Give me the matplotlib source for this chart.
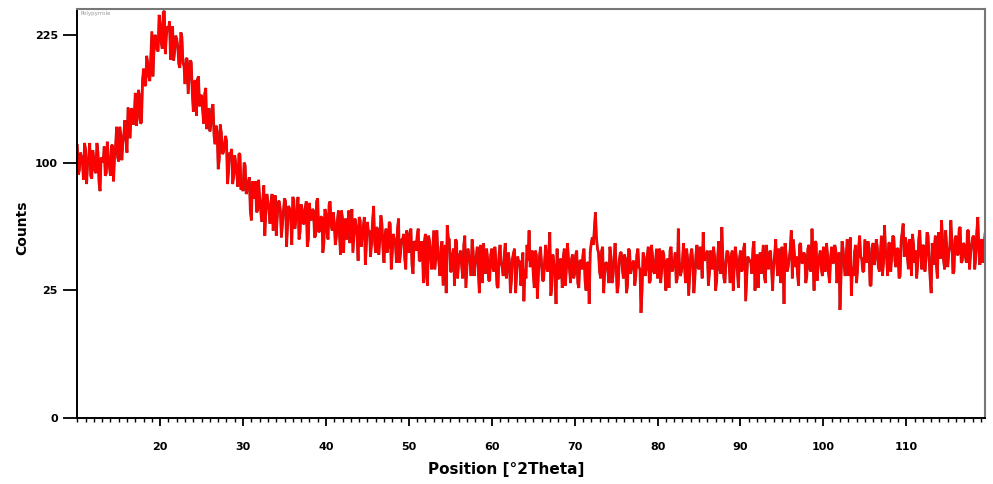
import numpy as np
import matplotlib
matplotlib.use("Agg")
import matplotlib.pyplot as plt
from matplotlib.ticker import FixedLocator, MultipleLocator

# Scan read on a 0.125 deg grid: "a" points at 10.00, 10.25, ... ; "b" points at 10.125, 10.375, ...
two_theta_start = 10.0
two_theta_step = 0.125

counts_a_10_20 = [114, 94, 105, 87, 111, 99, 116, 88, 103, 92, 108, 79, 103, 113, 92, 103,
                  90, 114, 105, 130, 101, 123, 116, 136, 108, 133, 147, 132, 162, 138, 160, 134,
                  187, 169, 193, 174, 229, 206, 221, 206]
counts_a_20_30 = [238, 209, 254, 224, 231, 197, 235, 206, 220, 192, 228, 193, 171, 198, 179, 194,
                  144, 174, 176, 149, 160, 133, 167, 140, 126, 147, 122, 131, 95, 132, 107, 114,
                  118, 93, 107, 84, 106, 91, 107, 80]
counts_a_30_40 = [79, 98, 80, 89, 60, 83, 86, 66, 74, 59, 83, 66, 71, 58, 77, 61,
                  51, 72, 66, 58, 74, 45, 69, 61, 75, 55, 66, 49, 70, 58, 68, 45,
                  71, 60, 66, 51, 74, 54, 62, 47]
counts_a_40_50 = [64, 49, 72, 54, 59, 50, 66, 41, 61, 57, 49, 66, 53, 42, 61, 51,
                  62, 45, 56, 36, 59, 54, 47, 69, 42, 54, 49, 58, 37, 55, 45, 58,
                  42, 49, 37, 61, 42, 49, 39, 54]
counts_a_50_60 = [42, 55, 32, 47, 51, 38, 48, 28, 52, 27, 48, 34, 54, 39, 42, 31,
                  48, 36, 24, 50, 33, 41, 27, 48, 37, 43, 30, 51, 34, 40, 31, 43,
                  37, 45, 24, 41, 47, 32, 39, 29]
counts_a_60_70 = [44, 33, 38, 26, 46, 35, 40, 30, 42, 24, 39, 44, 32, 37, 27, 42,
                  34, 46, 54, 38, 32, 43, 22, 40, 37, 29, 46, 33, 53, 27, 36, 20,
                  30, 39, 26, 44, 34, 39, 28, 41]
counts_a_70_80 = [32, 43, 26, 38, 41, 29, 37, 20, 47, 46, 65, 44, 33, 43, 24, 37,
                  33, 45, 28, 39, 36, 27, 42, 34, 41, 24, 44, 32, 37, 27, 41, 35,
                  17, 42, 31, 40, 28, 46, 33, 38]
counts_a_80_90 = [30, 44, 34, 41, 25, 39, 43, 33, 37, 28, 55, 31, 38, 35, 44, 23,
                  41, 37, 30, 46, 34, 42, 53, 39, 43, 32, 36, 45, 25, 40, 34, 56,
                  30, 38, 42, 28, 43, 35, 40, 26]
counts_a_90_100 = [43, 34, 47, 30, 39, 37, 44, 25, 41, 38, 32, 46, 28, 40, 42, 34,
                   36, 49, 31, 38, 45, 20, 41, 35, 44, 30, 42, 40, 27, 47, 37, 41,
                   31, 46, 33, 38, 48, 29, 40, 34]
counts_a_100_110 = [45, 33, 41, 28, 45, 37, 43, 32, 18, 48, 36, 40, 31, 50, 35, 42,
                    28, 45, 40, 33, 49, 37, 44, 27, 47, 39, 45, 33, 51, 37, 43, 31,
                    47, 41, 50, 35, 44, 31, 53, 40]
counts_a_110_120 = [47, 34, 44, 52, 37, 30, 49, 41, 46, 33, 53, 39, 24, 36, 51, 30,
                    49, 60, 38, 54, 35, 45, 48, 33, 51, 41, 56, 38, 46, 37, 54, 41,
                    50, 34, 53, 44, 48, 37, 52]

counts_b_10_20 = [91, 108, 100, 116, 84, 104, 90, 110, 94, 116, 85, 104, 100, 90, 117, 97,
                  114, 86, 114, 104, 130, 102, 124, 119, 148, 120, 145, 139, 131, 165, 133, 175,
                  171, 201, 179, 200, 179, 225, 208, 249]
counts_b_20_30 = [217, 252, 203, 235, 241, 214, 196, 224, 211, 188, 222, 190, 198, 161, 196, 162,
                  174, 140, 179, 158, 145, 161, 128, 147, 133, 151, 115, 126, 102, 125, 108, 122,
                  84, 108, 111, 90, 98, 82, 107, 84]
counts_b_30_40 = [100, 77, 85, 66, 86, 74, 65, 87, 66, 73, 51, 77, 66, 72, 54, 76,
                  62, 72, 50, 66, 72, 58, 67, 46, 73, 61, 75, 53, 67, 58, 72, 49,
                  62, 67, 50, 72, 53, 62, 42, 67]
counts_b_40_50 = [53, 70, 57, 65, 46, 60, 52, 66, 42, 61, 56, 47, 67, 51, 57, 38,
                  60, 51, 62, 46, 53, 40, 60, 47, 56, 41, 63, 44, 51, 42, 59, 34,
                  52, 47, 55, 37, 49, 52, 34, 49]
counts_b_50_60 = [52, 36, 48, 43, 55, 38, 45, 48, 31, 51, 40, 43, 34, 54, 37, 45,
                  27, 46, 57, 49, 33, 44, 49, 30, 41, 35, 46, 26, 44, 38, 49, 31,
                  40, 33, 46, 28, 39, 44, 29, 41]
counts_b_60_70 = [35, 45, 27, 41, 37, 31, 47, 34, 38, 29, 42, 24, 40, 38, 31, 21,
                  30, 38, 35, 43, 26, 41, 32, 45, 29, 38, 35, 42, 23, 41, 33, 44,
                  30, 37, 40, 27, 47, 34, 39, 30]
counts_b_70_80 = [41, 28, 38, 34, 44, 25, 37, 42, 50, 55, 50, 42, 30, 45, 33, 37,
                  28, 40, 31, 47, 24, 38, 42, 30, 39, 27, 43, 35, 38, 31, 44, 34,
                  25, 40, 34, 45, 29, 41, 32, 44]
counts_b_80_90 = [40, 28, 43, 33, 38, 26, 45, 35, 42, 30, 37, 33, 47, 28, 39, 31,
                  44, 24, 41, 35, 45, 30, 38, 41, 27, 43, 34, 40, 29, 48, 32, 39,
                  28, 43, 36, 40, 25, 45, 33, 39]
counts_b_90_100 = [33, 44, 21, 40, 38, 32, 48, 35, 26, 42, 39, 31, 46, 34, 43, 25,
                   41, 36, 44, 28, 40, 47, 33, 39, 54, 49, 35, 32, 46, 37, 42, 28,
                   44, 34, 55, 25, 47, 36, 43, 31]
counts_b_100_110 = [35, 47, 32, 40, 37, 46, 28, 42, 30, 44, 31, 49, 37, 23, 31, 46,
                    34, 51, 39, 33, 43, 48, 27, 45, 36, 49, 35, 42, 31, 57, 39, 47,
                    33, 51, 38, 44, 30, 48, 58, 50]
counts_b_110_120 = [40, 49, 31, 46, 43, 36, 54, 34, 45, 39, 51, 30, 47, 44, 36, 53,
                    39, 49, 34, 45, 42, 60, 32, 49, 41, 55, 37, 47, 40, 54, 34, 46,
                    51, 39, 62, 36, 49, 44]

counts_a = (counts_a_10_20 + counts_a_20_30 + counts_a_30_40 + counts_a_40_50 + counts_a_50_60
            + counts_a_60_70 + counts_a_70_80 + counts_a_80_90 + counts_a_90_100
            + counts_a_100_110 + counts_a_110_120)
counts_b = (counts_b_10_20 + counts_b_20_30 + counts_b_30_40 + counts_b_40_50 + counts_b_50_60
            + counts_b_60_70 + counts_b_70_80 + counts_b_80_90 + counts_b_90_100
            + counts_b_100_110 + counts_b_110_120)

counts = np.empty(len(counts_a) + len(counts_b))
counts[0::2] = counts_a
counts[1::2] = counts_b
two_theta = two_theta_start + two_theta_step * np.arange(len(counts))

x_major_ticks = [20, 30, 40, 50, 60, 70, 80, 90, 100, 110]
y_ticks = [0, 25, 100, 225]
y_tick_labels = ["0", "25", "100", "225"]
sample_name = "Polypyrrole"

fig = plt.figure(figsize=(9.93, 4.84), dpi=100)
ax = fig.add_axes([0.0778, 0.1357, 0.9142, 0.8451])

ax.plot(two_theta, counts, color="#a82828", linewidth=2.0, solid_joinstyle="bevel")
ax.plot(two_theta, counts, color="#ff0000", linewidth=1.5, solid_joinstyle="bevel")

def fwd(y):
    return np.sqrt(np.clip(y, 0, None))

def inv(y):
    return np.asarray(y) ** 2

ax.set_yscale("function", functions=(fwd, inv))
ax.set_ylim(0, 256)
ax.set_xlim(10, 119.5)

ax.xaxis.set_major_locator(FixedLocator(x_major_ticks))
ax.xaxis.set_minor_locator(MultipleLocator(1))
ax.set_xticklabels([str(t) for t in x_major_ticks], fontsize=8, fontweight="bold")
ax.yaxis.set_major_locator(FixedLocator(y_ticks))
ax.yaxis.set_minor_locator(FixedLocator([]))
ax.set_yticklabels(y_tick_labels, fontsize=8, fontweight="bold")

ax.tick_params(axis="x", which="major", direction="out", length=6, width=1.3, pad=11)
ax.tick_params(axis="x", which="minor", direction="out", length=3, width=1.0)
ax.tick_params(axis="y", which="major", direction="out", length=10, width=1.3, pad=4)

for s in ["left", "bottom"]:
    ax.spines[s].set_linewidth(1.4)
    ax.spines[s].set_color("black")
for s in ["top", "right"]:
    ax.spines[s].set_linewidth(1.5)
    ax.spines[s].set_color("#777777")

ax.text(0.004, 0.995, sample_name, transform=ax.transAxes, fontsize=4,
        color="#999999", va="top", ha="left")

fig.text(0.51, 0.03, "Position [°2Theta]", fontsize=11, fontweight="bold",
         ha="center", va="center")
fig.text(0.022, 0.53, "Counts", fontsize=10, fontweight="bold", rotation=90,
         ha="center", va="center")

fig.savefig("out.png", dpi=100)
